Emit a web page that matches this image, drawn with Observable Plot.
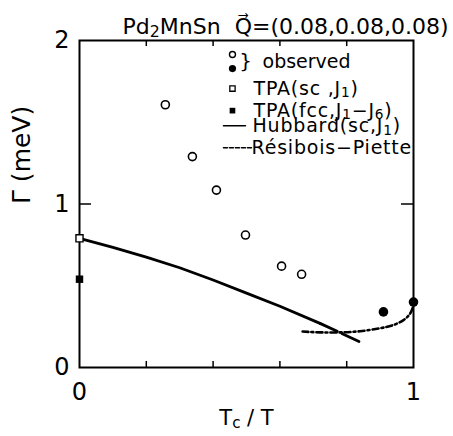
<!DOCTYPE html>
<html>
<head>
<meta charset="utf-8">
<script src="https://cdn.jsdelivr.net/npm/d3@7"></script>
<script src="https://cdn.jsdelivr.net/npm/@observablehq/plot@0.6"></script>
<style>
  html, body { margin: 0; padding: 0; background: #fff; }
  svg { font-family: "DejaVu Sans", sans-serif; }
</style>
</head>
<body>
<div id="chart"></div>
<script>
// ---- data ----
const observedOpenX = [0.257, 0.338, 0.41, 0.497, 0.605, 0.665];
const observedOpenY = [1.607, 1.29, 1.085, 0.81, 0.62, 0.57];
const observedFilledX = [0.91, 1.0];
const observedFilledY = [0.34, 0.40];
const tpaScX = [0];
const tpaScY = [0.79];
const tpaFccX = [0];
const tpaFccY = [0.54];
const hubbardX = [0, 0.1, 0.2, 0.3, 0.4, 0.5, 0.6, 0.72];
const hubbardY = [0.79, 0.735, 0.675, 0.61, 0.535, 0.455, 0.375, 0.27];
const hubbardExtX = [0.72, 0.85];
const hubbardExtY = [0.27, 0.147];
const resiboisX = [0.668, 0.72, 0.78, 0.84, 0.9, 0.94, 0.97, 0.99, 1.0];
const resiboisY = [0.22, 0.215, 0.215, 0.222, 0.24, 0.26, 0.29, 0.33, 0.38];

const xTickLabels = [0, 1];
const xMinorTicks = [0.2, 0.4, 0.6, 0.8];
const yTickLabels = [0, 1, 2];
const yMinorTicks = [1];

const titleText = "Pd_2MnSn  Q⃗=(0.08,0.08,0.08)";
const xLabel = "T_c / T";
const yLabel = "Γ (meV)";

// legend (hand-drawn inside the frame in the original)
const legendLabels = ["observed", "TPA(sc ,J_1)", "TPA(fcc,J_1−J_6)", "Hubbard(sc,J_1)", "Résibois−Piette"];
const legendTextX = [0.548, 0.521, 0.521, 0.518, 0.515];
const legendTextY = [1.871, 1.706, 1.571, 1.479, 1.344];
const legendMarkX = 0.458;
const legendOpenY = 1.914;
const legendFilledY = 1.828;
const legendSquareY = 1.706;
const legendFSquareY = 1.571;
const legendLineX = [0.431, 0.497];
const legendLineY = 1.479;
const legendDashX = [0.431, 0.515];
const legendDashY = 1.344;
const braceX = 0.497;
const braceY = 1.871;

const pts = (xs, ys) => xs.map((x, i) => ({x, y: ys[i]}));

const plot = Plot.plot({
  width: 453,
  height: 436,
  marginLeft: 79,
  marginRight: 40,
  marginTop: 40,
  marginBottom: 69,
  x: {domain: [0, 1]},
  y: {domain: [0, 2]},
  style: {fontFamily: "DejaVu Sans, sans-serif", color: "black", background: "white"},
  marks: [
    Plot.frame({stroke: "black", strokeWidth: 2}),
    Plot.axisX(xTickLabels, {tickSize: 0, tickPadding: 15, fontSize: 24, tickFormat: "d", label: null}),
    Plot.axisY(yTickLabels, {tickSize: 0, tickPadding: 10, fontSize: 24, tickFormat: "d", label: null}),
    // inward ticks
    Plot.ruleX(xMinorTicks, {y1: 0, y2: 0.037, stroke: "black", strokeWidth: 1.5}),
    Plot.ruleX(xMinorTicks, {y1: 2, y2: 2 - 0.037, stroke: "black", strokeWidth: 1.5}),
    Plot.ruleY(yMinorTicks, {x1: 0, x2: 0.036, stroke: "black", strokeWidth: 1.5}),
    Plot.ruleY(yMinorTicks, {x1: 1, x2: 1 - 0.036, stroke: "black", strokeWidth: 1.5}),
    // curves
    Plot.line(pts(hubbardX, hubbardY), {x: "x", y: "y", stroke: "black", strokeWidth: 2.8}),
    Plot.line(pts(hubbardExtX, hubbardExtY), {x: "x", y: "y", stroke: "black", strokeWidth: 2.8, strokeDasharray: "19,5"}),
    Plot.line(pts(resiboisX, resiboisY), {x: "x", y: "y", stroke: "black", strokeWidth: 2.6, curve: "natural", strokeDasharray: "6,3,2,3"}),
    // points
    Plot.dot(pts(observedOpenX, observedOpenY), {x: "x", y: "y", r: 4, stroke: "black", strokeWidth: 1.6, fill: "white"}),
    Plot.dot(pts(observedFilledX, observedFilledY), {x: "x", y: "y", r: 4.8, fill: "black", stroke: "none"}),
    Plot.dot(pts(tpaScX, tpaScY), {x: "x", y: "y", r: 4, symbol: "square", stroke: "black", strokeWidth: 1.4, fill: "white"}),
    Plot.dot(pts(tpaFccX, tpaFccY), {x: "x", y: "y", r: 4.2, symbol: "square", fill: "black", stroke: "none"}),
    // legend
    Plot.dot([legendOpenY], {x: () => legendMarkX, y: d => d, r: 3, stroke: "black", strokeWidth: 1.4, fill: "white"}),
    Plot.dot([legendFilledY], {x: () => legendMarkX, y: d => d, r: 3.6, fill: "black", stroke: "none"}),
    Plot.dot([legendSquareY], {x: () => legendMarkX, y: d => d, r: 3, symbol: "square", stroke: "black", strokeWidth: 1.3, fill: "white"}),
    Plot.dot([legendFSquareY], {x: () => legendMarkX, y: d => d, r: 3.2, symbol: "square", fill: "black", stroke: "none"}),
    Plot.line(legendLineX, {x: d => d, y: () => legendLineY, stroke: "black", strokeWidth: 1.5}),
    Plot.line(legendDashX, {x: d => d, y: () => legendDashY, stroke: "black", strokeWidth: 1.5, strokeDasharray: "4,2"}),
    Plot.text(["}"], {x: () => braceX, y: () => braceY, text: d => d, fontSize: 20, textAnchor: "middle"}),
    Plot.text(legendLabels, {x: (d, i) => legendTextX[i], y: (d, i) => legendTextY[i], text: d => d, fontSize: 19, textAnchor: "start"}),
    // title and axis labels
    Plot.text([titleText], {frameAnchor: "top-right", text: d => d, textAnchor: "end", dx: 35, dy: -22, fontSize: 22}),
    Plot.text([xLabel], {frameAnchor: "bottom", text: d => d, dy: 57, fontSize: 21}),
    Plot.text([yLabel], {frameAnchor: "left", text: d => d, dx: -58, rotate: -90, fontSize: 25})
  ]
});

// legend texts are set a little wider, as in the original lettering
d3.select(plot).selectAll("text").filter(function () {
  return legendLabels.includes(this.textContent);
}).attr("letter-spacing", function () {
  return this.textContent === "observed" ? "0px" : "0.8px";
});

// render "_x" as subscripts
d3.select(plot).selectAll("text").each(function () {
  const s = this.textContent;
  if (!s.includes("_") || this.querySelector("tspan")) return;
  const el = d3.select(this);
  el.text(null);
  const re = /_(.)/g;
  let last = 0, m, lowered = false;
  while ((m = re.exec(s)) !== null) {
    if (m.index > last) {
      el.append("tspan").attr("dy", lowered ? "-0.144em" : null).text(s.slice(last, m.index));
      lowered = false;
    }
    el.append("tspan").attr("font-size", "72%").attr("dy", "0.2em").text(m[1]);
    lowered = true;
    last = m.index + 2;
  }
  if (last < s.length) el.append("tspan").attr("dy", lowered ? "-0.144em" : null).text(s.slice(last));
});

document.getElementById("chart").appendChild(plot);
</script>
</body>
</html>
